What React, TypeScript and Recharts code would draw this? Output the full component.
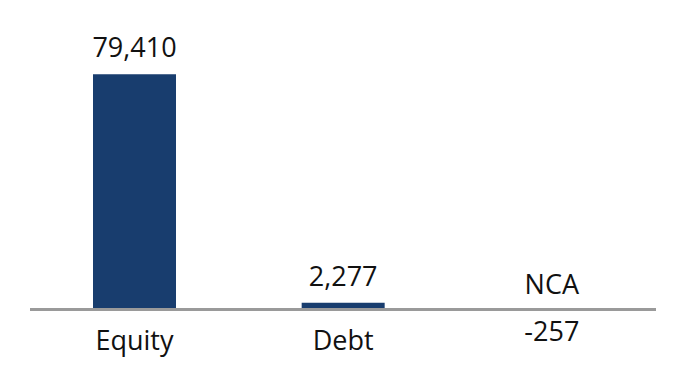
import React from "react";
import { BarChart, Bar, XAxis, YAxis, ReferenceLine, LabelList } from "recharts";

const categories = ["Equity", "Debt", "NCA"];
const values = [79410, 2277, -257];
const valueLabels = ["79,410", "2,277", "-257"];

const data = categories.map((c, i) => ({ name: c, value: values[i], label: valueLabels[i] }));

const FONT = "'Open Sans', sans-serif";
const FS = 27;

const renderLabel = (props: any) => {
  const { x, y, width, height, index } = props;
  const top = Math.min(y, y + height);
  const bottom = Math.max(y, y + height);
  const cx = x + width / 2;
  const v = values[index];
  const common = { textAnchor: "middle" as const, fontFamily: FONT, fontSize: FS, fill: "#111" };
  if (v >= 0) {
    return (
      <g>
        <text x={cx} y={top - 17} {...common}>{valueLabels[index]}</text>
        <text x={cx} y={bottom + 41} {...common}>{categories[index]}</text>
      </g>
    );
  }
  return (
    <g>
      <text x={cx} y={top - 15} {...common}>{categories[index]}</text>
      <text x={cx} y={bottom + 31} {...common}>{valueLabels[index]}</text>
    </g>
  );
};

export default function App() {
  return (
    <div style={{ position: "absolute", left: 0, top: 0 }}>
      <BarChart
        width={676}
        height={376}
        data={data}
        margin={{ top: 42.9, right: 20, bottom: 36.9, left: 30 }}
      >
        <XAxis dataKey="name" hide />
        <YAxis hide domain={[-10000, 90000]} />
        <Bar dataKey="value" fill="#183d6e" barSize={83} isAnimationActive={false}>
          <LabelList dataKey="value" content={renderLabel} />
        </Bar>
        <ReferenceLine y={0} stroke="#9a9a9a" strokeWidth={3} />
      </BarChart>
    </div>
  );
}
